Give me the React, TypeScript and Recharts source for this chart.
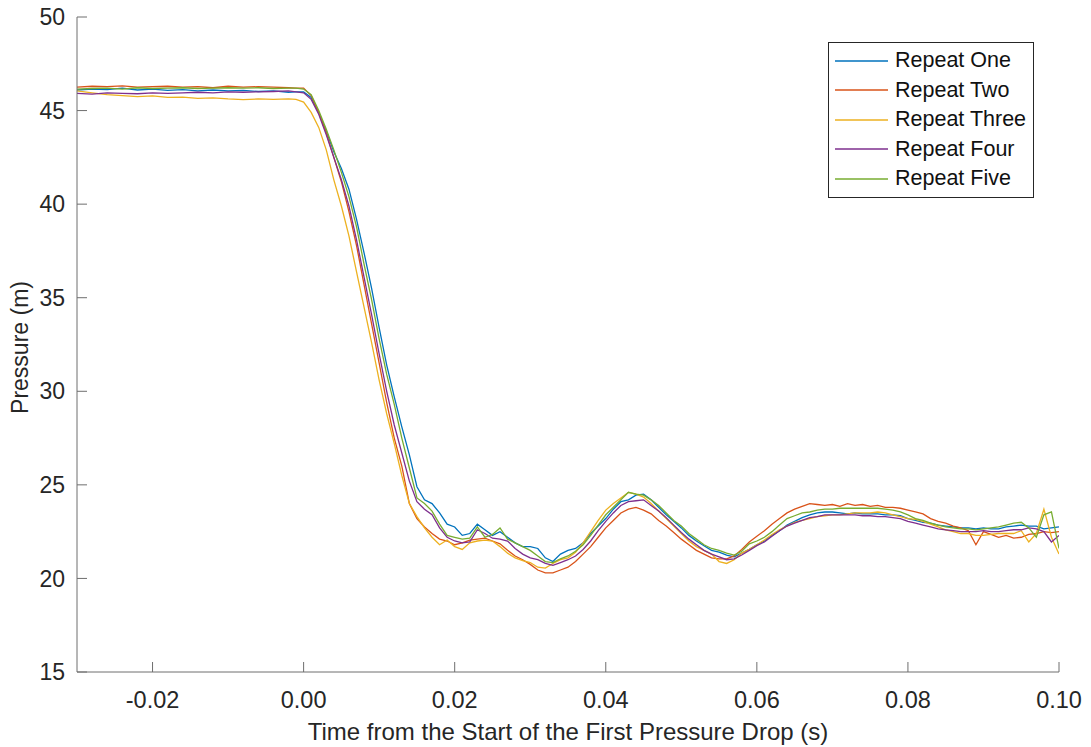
import { LineChart, Line, XAxis, YAxis, Legend } from 'recharts'

// time axis (s): coarse on the plateau, 1 ms steps from the drop onward
const TIME = [
  -0.030, -0.028, -0.026, -0.024, -0.022, -0.020, -0.018, -0.016, -0.014, -0.012, -0.010, -0.008, -0.006, -0.004, -0.002,
  -0.001, 0.000, 0.001, 0.002, 0.003, 0.004, 0.005, 0.006, 0.007, 0.008, 0.009,
  0.010, 0.011, 0.012, 0.013, 0.014, 0.015, 0.016, 0.017, 0.018, 0.019,
  0.020, 0.021, 0.022, 0.023, 0.024, 0.025, 0.026, 0.027, 0.028, 0.029,
  0.030, 0.031, 0.032, 0.033, 0.034, 0.035, 0.036, 0.037, 0.038, 0.039,
  0.040, 0.041, 0.042, 0.043, 0.044, 0.045, 0.046, 0.047, 0.048, 0.049,
  0.050, 0.051, 0.052, 0.053, 0.054, 0.055, 0.056, 0.057, 0.058, 0.059,
  0.060, 0.061, 0.062, 0.063, 0.064, 0.065, 0.066, 0.067, 0.068, 0.069,
  0.070, 0.071, 0.072, 0.073, 0.074, 0.075, 0.076, 0.077, 0.078, 0.079,
  0.080, 0.081, 0.082, 0.083, 0.084, 0.085, 0.086, 0.087, 0.088, 0.089,
  0.090, 0.091, 0.092, 0.093, 0.094, 0.095, 0.096, 0.097, 0.098, 0.099,
  0.100,
]

// pressure (m) per repeat, same length as TIME
const REPEAT_ONE = [
  46.10, 46.15, 46.12, 46.20, 46.10, 46.15, 46.08, 46.12, 46.05, 46.10, 46.05, 46.08, 46.02, 46.05, 45.98,
  46.00, 46.00, 45.70, 44.90, 43.90, 42.80, 41.90, 40.80, 39.20, 37.40, 35.50,
  33.40, 31.40, 29.70, 28.10, 26.60, 24.90, 24.20, 24.00, 23.50, 22.90,
  22.75, 22.30, 22.40, 22.90, 22.60, 22.30, 22.50, 22.20, 21.90, 21.70,
  21.70, 21.60, 21.10, 20.90, 21.30, 21.50, 21.60, 21.90, 22.40, 22.80,
  23.20, 23.70, 24.10, 24.20, 24.45, 24.50, 24.20, 23.80, 23.40, 23.05,
  22.70, 22.30, 22.00, 21.75, 21.50, 21.40, 21.25, 21.15, 21.35, 21.55,
  21.80, 22.00, 22.30, 22.55, 22.85, 23.05, 23.25, 23.40, 23.50, 23.55,
  23.55, 23.50, 23.45, 23.50, 23.45, 23.45, 23.45, 23.40, 23.40, 23.35,
  23.20, 23.10, 23.00, 22.95, 22.85, 22.80, 22.75, 22.70, 22.70, 22.65,
  22.70, 22.65, 22.65, 22.75, 22.80, 22.85, 22.80, 22.80, 22.65, 22.70,
  22.75,
]

const REPEAT_TWO = [
  46.25, 46.30, 46.28, 46.32, 46.25, 46.28, 46.30, 46.25, 46.28, 46.22, 46.30, 46.25, 46.28, 46.25, 46.22,
  46.20, 46.20, 45.80, 44.90, 43.80, 42.50, 41.20, 39.60, 37.80, 35.70, 33.60,
  31.50, 29.40, 27.50, 26.00, 24.00, 23.20, 22.75, 22.40, 22.10, 22.00,
  21.80, 21.90, 22.05, 22.10, 22.15, 22.00, 21.85, 21.50, 21.20, 21.00,
  20.75, 20.45, 20.30, 20.30, 20.45, 20.60, 20.90, 21.30, 21.70, 22.20,
  22.70, 23.10, 23.50, 23.70, 23.80, 23.65, 23.45, 23.10, 22.80, 22.45,
  22.10, 21.80, 21.50, 21.30, 21.10, 21.05, 21.05, 21.20, 21.55, 21.95,
  22.25, 22.55, 22.90, 23.20, 23.50, 23.70, 23.85, 24.00, 23.95, 23.90,
  23.95, 23.85, 24.00, 23.90, 23.95, 23.85, 23.90, 23.80, 23.80, 23.75,
  23.65, 23.55, 23.45, 23.20, 23.05, 22.95, 22.80, 22.70, 22.55, 21.80,
  22.50, 22.35, 22.20, 22.30, 22.15, 22.20, 22.35, 22.40, 22.50, 22.45,
  22.50,
]

const REPEAT_THREE = [
  46.05, 45.95, 45.85, 45.80, 45.75, 45.78, 45.70, 45.72, 45.65, 45.68, 45.62, 45.58, 45.62, 45.60, 45.62,
  45.60, 45.45, 44.90, 44.10, 42.90, 41.30, 39.90, 38.30, 36.40, 34.50, 32.60,
  30.60, 28.80, 27.20, 25.50, 24.00, 23.30, 22.70, 22.20, 21.80, 22.05,
  21.70, 21.55, 21.90, 22.00, 22.05, 22.00, 21.70, 21.35, 21.10, 20.95,
  20.85, 20.60, 20.55, 20.80, 21.00, 21.10, 21.40, 21.90, 22.50, 23.10,
  23.65, 24.00, 24.30, 24.60, 24.50, 24.35, 24.00, 23.60, 23.20, 22.80,
  22.40, 22.00, 21.70, 21.50, 21.30, 20.90, 20.80, 21.00, 21.35, 21.55,
  21.80, 22.05, 22.35, 22.60, 22.80, 23.00, 23.10, 23.20, 23.30, 23.35,
  23.40, 23.40, 23.45, 23.50, 23.50, 23.50, 23.55, 23.50, 23.40, 23.30,
  23.20, 23.15, 23.05, 22.90, 22.75, 22.60, 22.50, 22.40, 22.40, 22.30,
  22.30, 22.35, 22.40, 22.40, 22.40, 22.55, 21.95, 22.40, 23.70, 22.20,
  21.30,
]

const REPEAT_FOUR = [
  45.92, 45.88, 45.95, 45.92, 45.90, 45.95, 45.92, 45.95, 45.98, 45.95, 46.00, 45.98, 46.00, 46.02, 46.05,
  46.00, 45.95, 45.60, 44.80, 43.70, 42.50, 41.30, 39.90, 38.10, 36.10, 34.10,
  32.00, 30.00, 28.20, 26.70, 25.20, 24.10, 23.70, 23.40, 22.70, 22.20,
  22.00, 21.90, 21.95, 22.60, 22.40, 22.15, 22.10, 22.00, 21.60, 21.30,
  21.10, 21.00, 20.80, 20.70, 20.85, 21.00, 21.20, 21.55, 22.00, 22.55,
  23.05, 23.50, 23.90, 24.10, 24.15, 24.20, 23.90, 23.60, 23.25, 22.85,
  22.45, 22.10, 21.80, 21.50, 21.30, 21.15, 21.00, 21.05, 21.25, 21.50,
  21.75, 21.95, 22.25, 22.55, 22.80, 22.95, 23.10, 23.25, 23.30, 23.40,
  23.40, 23.40, 23.40, 23.40, 23.35, 23.35, 23.30, 23.30, 23.25, 23.20,
  23.05, 22.95, 22.85, 22.75, 22.65, 22.60, 22.55, 22.50, 22.50, 22.50,
  22.55, 22.50, 22.50, 22.55, 22.60, 22.60, 22.70, 22.65, 22.50, 21.95,
  22.30,
]

const REPEAT_FIVE = [
  46.15, 46.18, 46.20, 46.15, 46.22, 46.18, 46.20, 46.22, 46.18, 46.20, 46.22, 46.20, 46.22, 46.18, 46.20,
  46.20, 46.15, 45.85, 45.00, 44.00, 42.90, 41.70, 40.40, 38.80, 36.80, 34.90,
  32.80, 30.90, 29.30, 27.50, 25.90, 24.30, 24.00, 23.60, 22.90, 22.30,
  22.20, 22.10, 22.15, 22.75, 22.20, 22.35, 22.70, 22.10, 21.90, 21.70,
  21.50, 21.20, 20.90, 20.85, 21.05, 21.20, 21.45, 21.80, 22.30, 22.85,
  23.40, 23.80, 24.20, 24.60, 24.50, 24.45, 24.20, 23.90, 23.50, 23.10,
  22.80, 22.40, 22.10, 21.80, 21.60, 21.50, 21.35, 21.25, 21.45, 21.85,
  22.00, 22.20, 22.50, 22.85, 23.20, 23.35, 23.50, 23.55, 23.65, 23.70,
  23.70, 23.75, 23.75, 23.75, 23.75, 23.75, 23.75, 23.70, 23.65, 23.55,
  23.40, 23.20, 23.10, 22.95, 22.85, 22.75, 22.70, 22.65, 22.65, 22.60,
  22.65, 22.70, 22.75, 22.85, 22.95, 23.00, 22.70, 22.20, 23.40, 23.55,
  21.60,
]

const X_TICKS = [-0.02, 0.0, 0.02, 0.04, 0.06, 0.08, 0.1]
const Y_TICKS = [15, 20, 25, 30, 35, 40, 45, 50]

const SERIES = [
  { key: 'one', name: 'Repeat One', values: REPEAT_ONE, color: '#0072BD' },
  { key: 'two', name: 'Repeat Two', values: REPEAT_TWO, color: '#D95319' },
  { key: 'three', name: 'Repeat Three', values: REPEAT_THREE, color: '#EDB120' },
  { key: 'four', name: 'Repeat Four', values: REPEAT_FOUR, color: '#7E2F8E' },
  { key: 'five', name: 'Repeat Five', values: REPEAT_FIVE, color: '#77AC30' },
]

const FONT = '"Liberation Sans", Arial, Helvetica, sans-serif'
const TEXT = '#262626'
const AXIS = '#6e6e6e'

const data = TIME.map((t, i) => {
  const row: Record<string, number> = { t }
  for (const s of SERIES) row[s.key] = s.values[i]
  return row
})

// eslint-disable-next-line @typescript-eslint/no-explicit-any
function XLabel({ viewBox }: any) {
  return (
    <text x={viewBox.x + viewBox.width / 2} y={viewBox.y + 59} textAnchor="middle" dominantBaseline="central"
      fill={TEXT} fontSize={24} fontFamily={FONT}>
      Time from the Start of the First Pressure Drop (s)
    </text>
  )
}

// eslint-disable-next-line @typescript-eslint/no-explicit-any
function YLabel({ viewBox }: any) {
  const x = 20
  const y = viewBox.y + viewBox.height / 2 + 3
  return (
    <text x={x} y={y} transform={`rotate(-90 ${x} ${y})`} textAnchor="middle" dominantBaseline="central"
      fill={TEXT} fontSize={23} fontFamily={FONT}>
      Pressure (m)
    </text>
  )
}

function LegendBox() {
  return (
    <div style={{
      border: '1px solid #262626', background: '#fff', width: 204, padding: '3px 0 3px 0',
      fontFamily: FONT, fontSize: 21.5, color: '#111',
    }}>
      {SERIES.map(s => (
        <div key={s.key} style={{ display: 'flex', alignItems: 'center', height: 29.5 }}>
          <svg width={66} height={10} style={{ flex: 'none' }}>
            <line x1={6} y1={5} x2={59} y2={5} stroke={s.color} strokeWidth={1.3} />
          </svg>
          <span style={{ whiteSpace: 'nowrap', lineHeight: 1 }}>{s.name}</span>
        </div>
      ))}
    </div>
  )
}

export default function App() {
  return (
    <div style={{ position: 'absolute', left: 0, top: 0, width: 1091, height: 747, background: '#fff' }}>
      <LineChart width={1091} height={747} data={data} margin={{ top: 17, right: 32, left: 0, bottom: 0 }}>
        <XAxis dataKey="t" type="number" domain={[-0.03, 0.1]} ticks={X_TICKS} allowDataOverflow
          height={75} stroke={AXIS} tickSize={-10} tickMargin={29}
          tick={{ fill: TEXT, fontSize: 23.5, fontFamily: FONT }}
          tickFormatter={(v: number) => v.toFixed(2)}
          label={<XLabel />} />
        <YAxis type="number" domain={[15, 50]} ticks={Y_TICKS} allowDataOverflow
          width={77} stroke={AXIS} tickSize={-10} tickMargin={22}
          tick={{ fill: TEXT, fontSize: 23, fontFamily: FONT }}
          label={<YLabel />} />
        <Legend layout="vertical" align="center" verticalAlign="middle"
          wrapperStyle={{ left: 828, top: 42, width: 206 }}
          content={() => <LegendBox />} />
        {SERIES.map(s => (
          <Line key={s.key} dataKey={s.key} name={s.name} type="linear" stroke={s.color}
            strokeWidth={1.3} dot={false} activeDot={false} isAnimationActive={false} />
        ))}
      </LineChart>
    </div>
  )
}
